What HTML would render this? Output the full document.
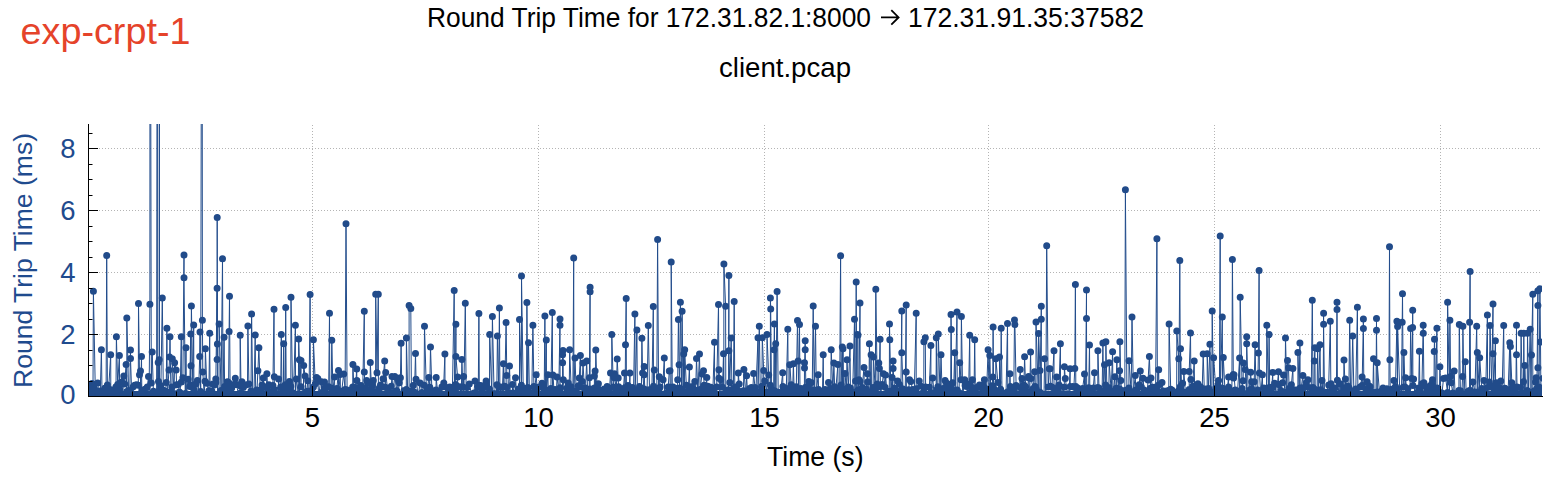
<!DOCTYPE html>
<html><head><meta charset="utf-8"><style>
html,body{margin:0;padding:0;background:#fff;}
body{width:1568px;height:478px;overflow:hidden;position:relative;}
text{font-family:"Liberation Sans",sans-serif;}
.tt{font-size:27.5px;fill:#000;}
.xl{font-size:27.5px;fill:#000;}
.yl{font-size:27.5px;fill:#1f4b8e;}
.ylab{font-size:26.5px;fill:#1f4b8e;}
.exp{font-size:37px;fill:#e5432a;}
</style></head><body>
<svg width="1568" height="478" viewBox="0 0 1568 478" style="position:absolute;left:0;top:0">
<defs><clipPath id="c"><rect x="88" y="124" width="1454" height="272.3"/></clipPath></defs>
<path d="M99 334.5H1542M99 272.5H1542M99 210.5H1542M99 148.5H1542M312.5 125V385.3M538.5 125V385.3M764.5 125V385.3M988.5 125V385.3M1214.5 125V385.3M1440.5 125V385.3" stroke="#b4b4b4" stroke-width="1" stroke-dasharray="1 2" fill="none"/>
<g clip-path="url(#c)">
<rect x="88" y="391" width="1454" height="6" fill="#214b8a"/>
<polyline points="87,394 88.8,388 90.2,388.4 91.1,395.2 92,383.5 93,386.6 93.4,291.2 95.3,390.1 97.7,383 99,394.5 100.3,391.1 101.4,349.7 102,391.7 103.7,395.6 104.8,388.2 106.1,390.7 106.7,255.4 107.4,385 108.6,389.8 110.7,354.7 110.8,389.8 113.1,391.1 115.2,390.2 116,386.8 116.4,336.7 117.7,384.5 119.4,355.4 119.6,389.1 121.2,382.1 122.7,395.5 123.8,376.1 124.7,384 126.1,364.4 126.8,391.5 126.8,317.9 128.6,390.6 129.7,395.6 130.5,350 130.5,358.4 131.7,393.2 133.2,386.8 134.7,385.3 136.8,384.8 138.3,385.3 138.5,303.5 139.5,374.8 140.5,371.1 140.6,394.1 141.5,356.4 141.8,390.3 143.5,396.2 145,389.3 147.3,387.1 148.5,376.5 149.1,395.6 149.9,304.2 150,-300 151.3,382.9 152.2,352 153.4,391.3 154.4,395.5 155.3,394.3 156.6,396.3 157.5,-300 157.7,391.8 158.2,362.4 158.5,381.5 159.2,359.7 159.5,-300 159.5,392 160.9,385.8 162.3,297.9 163.3,390.3 164.3,392 165.5,391.3 166.3,382.4 166.9,328.3 167.3,396 169,369.9 169.6,357 170,336.7 170.9,391.7 172,386.9 172.3,358.7 174,393.5 174.6,362.7 176.1,370 176.6,384.8 178.2,384.5 179.4,391.9 180.2,392.8 181.3,336.7 181.4,381.9 182.9,377.8 184,255 184,277.8 185.3,393.6 186,347.7 186.4,393.8 188.2,379.3 189.8,386.4 190.7,334 190.7,385 191,365.8 191.4,305.9 192.8,387.6 193.7,325 193.9,389.3 196,383.7 197.4,380.4 198.5,394.4 199.7,356.4 200,332 200.7,391.5 202,-300 202.4,320.3 202.8,372.1 204.2,394.7 205,381.2 205.4,348.7 206.7,383.3 208.9,390.7 209.7,333.3 210.1,393.3 211.8,391.1 212.8,384.1 214.3,385.1 215.8,379.1 215.8,382.6 217.1,288.2 217.1,359.4 217.2,217.6 217.4,344 217.5,396.1 219,396.3 219.1,324 221.1,390.4 222.5,258.7 223,392.3 224.1,337.3 224.6,386.6 225.6,393.2 226.9,387.2 227.5,381.8 228.6,382.4 229.1,331.6 229.5,296.2 230.1,390 231.7,387.9 233.3,384.6 235.3,378.3 236.5,384.6 238.6,394.8 240.1,393.3 240.2,335.3 241,386.6 241.9,381.8 243.3,387.4 245.1,385.3 247.5,384.5 247.9,326 248.9,384 251,390.9 251.6,313.9 252.7,393.9 254,393 255.2,335 255.7,396.1 257,389.9 257.9,370.7 258.9,347.7 260.3,393 261.1,390 262.1,385 263.3,378.1 264.2,394.4 266.5,387.6 266.9,373.8 267.5,387.8 268.9,384.7 270.7,392.2 272.9,385.6 274,309.2 274.3,376.8 274.4,389.4 276.7,394.7 278.4,394.9 278.6,379.1 279.4,393.8 280.7,386.9 281.3,334.6 282,394.1 283.3,393.2 283.7,343.7 284.2,386.7 285.3,384.7 285.7,307.6 286.2,388.1 287.8,388.6 289.4,381.6 290.8,386.6 291,297.2 292.6,392.8 293.5,395.6 295.4,325.3 295.5,394.7 296.4,379 298.3,393.9 298.7,339 299.4,359.7 299.6,394.7 301,360.4 301.1,386.7 303.4,393.9 303.7,365.4 305.1,376.1 305.8,392.8 306.6,391.6 307.8,380.8 308.2,391.3 309,395.4 310.1,294.5 310.4,396.1 311.7,390.5 313.4,387.1 313.4,339.7 315.3,383.7 316.6,377.6 317.8,378.5 318.6,395.9 320.7,381.4 322.7,391.9 324.3,388 324.5,382.1 326.4,387.8 328.7,386.7 329.5,313.2 329.8,395 331.2,388 331.8,340.3 332.9,390.1 334.5,377.1 334.8,396.3 336.9,388.5 338.5,370.4 338.5,395.6 340.2,374.4 340.5,395.6 341.7,391.3 343.7,373.9 345.1,389.5 346,223.8 347.1,389.9 348.1,393.8 350.1,390.7 350.9,393.6 352.7,386.9 352.9,364.4 354,391.7 355.6,387.4 356.7,369.1 356.9,380.5 357.5,388.2 359.9,393.6 361,385.5 362.7,391.1 364.3,311.2 364.3,372.1 365,388.2 366.7,380.6 367.8,382.8 368.7,391.4 370.2,394.9 370.3,362.4 371.5,388 372.3,385.4 373.3,380.5 375.6,392.6 375.7,294.2 377,372.8 378.3,294.2 378.4,393.6 379.3,388 380.5,385.1 381.7,394.4 383.1,378.8 384.7,361.1 385.2,387.2 385.7,372.4 387.5,389.2 388.4,389 390.4,393.5 391.3,386.3 392,376.5 392.9,393.3 394.8,376.4 396.7,390.8 397.7,378.1 398.1,394.7 399.3,382.7 400.4,377.7 401.1,343.3 401.9,394.4 402.9,395.4 404.1,390.6 406.3,389.4 406.4,338 407.7,392.6 409.1,393.5 409.1,305.6 410.8,308.6 411.4,391.3 413.2,385.5 414.5,392.3 415.5,353.4 416,379.2 418.2,396 420.1,382.9 421.9,392.4 424.1,385.2 424.5,326.3 426.5,395.2 427.5,389.5 428.8,377.5 429.8,387.2 430.5,347 431.9,390.8 432.7,391 435,393.3 436,390 436.2,377.5 437.9,395.6 439.6,392.4 440.7,396.2 442,386.8 443.8,382.9 444.9,354 445,386.8 446.9,396.1 448.5,392.1 449.8,387.1 450.9,392.9 452.4,391.4 454.2,290.5 454.5,388.5 455.6,384.5 455.9,324.3 455.9,356.4 457.6,377.1 457.7,394.1 459.7,386.8 461.3,394.1 461.9,359.4 462.8,386.9 463.6,376.5 463.8,394.2 465.3,303.2 466.2,395.8 467.1,387.4 469.3,383.9 471.6,394.5 473.9,392.9 475,381.1 475.7,392.6 477.1,396.3 478.3,386.8 478.9,313.6 479.3,385.6 480.7,385.5 482.2,391.6 483.6,385.7 485,387.3 486.1,381.1 486.4,386.1 487.3,395.7 489.5,388.9 489.7,334.6 491.8,393.6 492.4,316.6 494.1,393.7 496.1,393.6 496.9,384.7 497.4,336 498.7,387.4 499.4,307.9 499.9,386.8 502.2,393.8 503.4,363.7 503.7,387.1 504.8,386.3 506.1,322.6 506.8,375.5 506.9,387.5 508.2,392.7 509.5,366.1 510.3,394.3 512.3,395.7 512.5,384.5 513.1,393.1 515.5,377.8 516.7,395.3 518.3,389 519.5,390.1 519.5,319.6 521.4,385.3 521.5,276.1 523.2,388 524.5,392.6 526.5,393.8 526.9,302.5 527.7,387.5 528.5,342.7 529.4,392.4 531.8,394 532.9,325.3 533.9,386.5 534.8,388.2 536.2,374.8 537,387.2 538.3,394.4 540.6,387.1 542,383.2 543.2,384.4 544.2,390.1 544.9,315.9 545.3,394.9 546.3,340 546.5,390.3 547.9,374.8 548.3,396.2 549.6,394.5 550.9,388.4 552.3,312.6 552.6,395.3 552.9,375.1 554,390 555,389.4 556.4,393.2 557,377.1 558.8,390.7 560,318.9 560,325.3 560.1,387.7 562.5,394.3 562.6,354.7 562.6,362.7 563,350.4 563.3,379.8 564.5,396.2 566.7,388.2 568.2,383 569.2,390.8 569.7,349.7 571.1,386.7 572.9,391.3 573.7,258.1 573.9,391.1 575,358.1 576.2,391.4 578.3,385.7 579.3,377.9 580.4,355.4 580.8,387.1 582.3,381.5 583,363.1 584.4,388.5 585.5,387.9 586.7,361.1 587.7,394.1 589.1,392.5 589.4,377.8 590.1,287.2 590.1,291.8 590.1,389.1 592.3,390.7 594.4,388 594.4,376.1 595.1,371.1 595.3,390.8 595.8,350 597.1,392.1 598.4,383.8 598.9,389.8 600.4,396.1 602.2,394 604.2,388.9 605.3,395.2 606.3,395.4 607.1,386.5 607.8,395.9 609.6,389 610.5,373.1 611.7,395.8 611.8,334.6 613.3,386.9 614.3,377.7 614.5,373.8 616.3,391.4 617.2,359.1 618.2,378.1 618.6,386.8 620.9,388.5 623.2,392.8 624.5,373.1 625.2,387.4 625.5,344.7 626.2,298.5 626.4,391.9 628,385.5 629.3,393.1 629.9,373.1 630.1,394.7 632.4,387.4 633.5,392.1 634.9,313.9 635.1,392.7 636.9,330 637.3,390.5 639.5,386.4 641.4,388.4 641.9,338.3 642.6,373 644,389.1 644.2,366.4 644.2,374.8 645,392.7 647.1,390 648.3,325.6 649.5,389.7 650.8,396 651.9,392 653.3,306.6 653.5,386.3 654.3,370.1 654.6,396.1 655.4,395.2 656.8,390.5 657.6,239.5 658.6,390.1 659.3,376.8 660.1,387 661.3,395.3 663.1,379.8 664.3,358.1 664.6,396.2 666.4,392.8 668.2,387 669.3,371.1 670,370.8 670.2,387.3 671.1,392.3 671.2,262 672.3,388.6 673.1,387 674.1,390.3 675.7,388.2 676.8,393.3 677.7,379.8 678.4,319.6 679.1,364.7 679.6,387.9 680.4,302.2 681.6,388.9 682.1,311.2 683.1,395.3 683.7,354 684.3,393 684.7,349.7 686.3,385.3 688.3,390.8 689.4,367.1 689.8,388.3 691,386.7 692.1,387.5 693.3,388.9 694.8,381.5 695.7,390.2 696.5,358.4 697.9,393.9 699.5,354 700.1,389.4 702,374.1 703.5,370.8 704.1,385.2 705.6,387.9 706.8,377.5 706.9,390.1 707.8,386.2 708.7,387.1 710,396 710.9,387.3 712.8,392.6 714.5,342.3 714.6,388.2 716.7,387 718.5,304.5 718.9,378.2 718.9,369.8 719.8,395.2 720.7,379.5 722.5,387.3 723.5,353.7 723.8,395.3 723.9,264.1 725.6,306.2 725.8,393.1 727.2,393.8 728.5,389.8 728.9,275.5 728.9,350.7 729.8,382.6 731.2,338 732,396 733.4,388.6 734.2,301.5 734.8,388.2 735.9,386.7 738,396.3 738.3,373.1 739.2,384.1 740,391.4 742.1,391.4 743.4,390.8 743.9,369.4 745.7,394.2 746.6,375.8 747.6,395.2 749.5,388.5 751.4,387.4 752.7,392.4 753.6,373.4 755,387.5 755.8,393.7 758,337.7 758,392.5 759.3,326.3 760.3,391.7 761.9,386.2 762.3,337.7 763.7,370.4 763.7,393.1 764.8,381 766.8,391.9 767,334.6 768.7,375.1 768.8,395 770.4,385.2 770.4,297.9 770.7,308.9 771.5,389.3 773.6,394.8 774,349.7 774.4,323.9 774.8,391.1 775.7,343.7 775.9,394.4 777.1,291.5 778.2,392.2 780.6,392.5 782.7,372.8 782.9,386.4 784.4,390 785.4,392.4 786.3,388.4 787.8,329.3 788.2,390 789.7,390.3 789.8,364.7 791.2,384.7 792.7,388.9 793.4,363.7 794.1,389.1 796.3,386.7 797.5,320.6 798.1,361.1 798.5,389.9 799.5,324.6 800,390.1 801,388.5 802.9,393.8 804.4,390.1 804.5,362.7 804.5,368.1 805.2,340.7 805.2,349.7 805.9,387.1 806.9,388.6 808.4,386.6 808.8,381.5 809.2,394.7 811.3,382.5 812.2,390.9 813.2,305.9 814.2,390 815.5,326.3 816.3,392.2 818.2,374.8 818.6,389.5 820.1,392.1 822.4,395.7 823.2,354.7 823.7,396.2 825.1,389.4 826.5,394.1 828.5,382.4 829.6,389.5 830.8,388.6 831.2,349.7 832.9,391.6 833.9,363.1 834.6,386.7 835.9,388.2 837.9,364.4 838,393.4 839.7,388 840.6,255.7 841.1,385 842.3,347 842.5,392.1 843,348.7 843.6,389.1 844.8,393.3 845,373.4 846.4,390 847,359.7 848.3,387.1 850,346 850.4,388.1 852.7,391.9 854.5,319.3 854.8,396.2 855.6,381.1 856.2,282.1 856.8,394.9 857.3,334.6 858,335 858,390 859,379.8 860,302.9 860.1,381.6 862.2,387.4 864,367.4 864.2,391.4 866.1,388.9 867.4,373.8 867.6,382.1 868.9,394.9 869.4,343.7 870.5,391.7 871.1,354.7 871.5,391.4 873.1,387.5 873.4,357 875.3,390.7 875.8,289.2 877.2,383.9 878.6,386.9 878.8,363.1 879.4,368.4 880.1,339.3 880.4,396 882.2,384.5 883.5,373.7 885.1,387.3 885.5,375.1 887.1,392.9 889.3,391.6 889.5,324 889.8,339.7 890.9,391.2 892.1,377.5 892.4,390.8 893.1,361.1 893.1,368.4 894.5,388.1 896,393.6 897.6,381.1 899.5,384.5 899.6,393.2 900.9,390 901.8,310.9 901.8,352.7 903,389.1 905.2,395.8 906.2,304.9 906.2,372.1 906.5,394.4 908.7,389.8 909.5,379.8 910.8,381.5 912.6,389.4 914.3,391.2 916.2,313.2 916.2,388.7 917.2,395.9 919.2,381.1 920.6,385.9 922.3,393.3 923.8,392 923.9,341.7 925.3,337.7 925.6,387.1 927.3,395.1 929.4,387.2 930.9,345.4 930.9,392.5 932.7,377.9 934.2,395.3 936.1,394.8 936.3,337.7 936.9,389.5 937.9,386.7 938.3,334 940.1,396.1 941,354.7 942,389 943.1,388.6 945.1,380.4 946,389.3 946.3,382.8 947.5,385.1 949.9,393.1 950.7,388.2 951,314.6 951.3,329.6 951.6,389.1 952.7,382.8 953.6,390.6 954.7,352.7 955.1,394.9 957,311.9 957.2,389.9 959,392.5 959.7,362.7 961,379.8 961.4,316.6 962.7,395.7 964.7,379.8 965.1,385.5 966.4,386.6 968.6,393.2 969.7,335.3 970,383.9 971.9,387.4 972.4,379.8 974,396.3 974.7,339.7 975.3,390.5 977.4,387.2 979.5,385.1 981.2,387.8 983.3,384.7 984.4,379.8 984.7,390.8 986.7,388.9 988.1,349.7 989,390.3 989.8,355.4 990.9,394.2 992.1,385.8 992.8,377.1 993.1,327 993.6,388.3 995.7,390.5 995.8,358.7 997.9,382.4 999.5,394.4 999.5,357 1000.6,389.3 1001.2,328.3 1002,392.3 1003.6,395.9 1006,395.2 1007.5,323.6 1007.8,391.7 1009.6,391.1 1009.9,373.8 1010.4,386.5 1012.6,390.7 1013.8,389.2 1014.5,319.9 1014.9,324.6 1016.1,385.6 1018.5,395.9 1019.6,395.5 1020.2,369.4 1020.5,387.7 1022,378.6 1022.9,392.4 1023.9,385.1 1024.6,356.7 1025.6,386.8 1027.5,391.8 1028.5,377.8 1028.6,376.5 1029.7,393.8 1030.6,352 1031,378.6 1033.2,388.5 1034.6,371.8 1035.1,386.5 1036,388.8 1036,321.9 1038.3,393.3 1038.6,333.6 1040,370.4 1040,392.2 1041.3,306.2 1041.3,319.3 1041.4,395.1 1042.9,393.9 1044,396.2 1044.6,358.7 1045.9,395.9 1046.7,245.8 1048.2,387 1049.3,368.8 1050,368.8 1050.4,386.2 1051.9,387.1 1054,350.7 1054,391.8 1055.4,388.8 1056.7,377.1 1057.2,394.1 1058.1,388 1059.1,385 1060.4,343.7 1060.6,393.6 1062.7,394.6 1064.3,387.3 1064.4,366.8 1065.3,378.6 1067.5,394.2 1069.1,393.7 1070.1,368.8 1070.2,386.5 1072.6,386.6 1073.9,387 1074.8,368.4 1075.4,284.4 1075.8,386.6 1076.7,390 1077.7,388 1079.3,392 1081.6,390.6 1082.6,388.6 1084.5,374.1 1084.5,395.5 1085.5,391.4 1086.5,290.1 1086.5,318.6 1086.7,390.2 1088.7,387.8 1089.5,345 1089.8,389 1091.2,392.7 1093.3,387.9 1094.5,372.8 1095.5,396.1 1097.8,387.6 1097.9,350.7 1099,388 1100.4,392.6 1102.1,391.1 1102.9,343 1103.6,395.1 1104.5,364.7 1105.6,385.1 1105.9,341.7 1106.9,389.6 1108.9,387.6 1109.2,362.7 1111.2,391.2 1112.6,351.7 1112.9,396.1 1114.9,376.8 1115.2,394.5 1116.2,388.2 1116.9,359.7 1117,389.4 1118.1,390.3 1119.6,370.8 1119.9,389.3 1119.9,341.7 1120.8,380.5 1121.7,391.4 1123.3,395.1 1124.8,390.4 1125.4,189.7 1126.9,390.6 1128.9,388.1 1129,360.7 1131.2,392.1 1132,316.9 1133.4,392.4 1135.3,375.5 1135.7,390 1136.9,392 1139.2,384.7 1140.3,371.1 1141.3,387.1 1143,378.3 1144.2,390 1145.5,395.6 1147,396.1 1148.1,379.9 1149.4,356.4 1150.4,388.3 1151,378.1 1152.6,387.3 1154.4,389.6 1155.6,387.1 1156.9,238.8 1157.4,391.1 1158.7,369.8 1158.9,384.8 1160.2,395.1 1162,382.5 1163.2,391 1164.2,395 1165.5,393.4 1166.7,390.9 1168.8,390.6 1169.1,324 1170.7,389.2 1172.2,390.2 1173.8,393.9 1174.9,392.5 1176.7,392.8 1176.8,331 1178.8,358.7 1178.8,390.8 1179.8,260.4 1180.4,386.5 1180.5,348.7 1181.7,391.7 1182.6,383.2 1183.5,391.9 1183.8,371.4 1185.5,394.1 1187.8,391.8 1189.2,389.6 1189.2,371.4 1190.5,333 1190.9,379.5 1192.6,386.3 1194.2,361.1 1194.6,388.5 1196.5,386.3 1197.9,383.8 1198.7,388.7 1200.4,386.7 1202.2,388.5 1203.2,354 1204.4,392.5 1205.9,389.1 1207.2,390.8 1207.2,353.7 1208.6,388.5 1209.9,344.3 1210.7,391.9 1211.8,394.9 1212.2,310.9 1213.5,395.4 1213.6,357.7 1215.8,387.9 1218,385.6 1218.6,380.5 1219.4,387.5 1220.2,235.9 1220.3,391.4 1222.3,316.9 1222.6,388.2 1223.3,357.4 1225,391.2 1226.9,392.7 1228.6,377.1 1228.6,386.9 1230.5,395.3 1231.9,390.7 1232.4,259.5 1233.3,374.4 1233.6,378 1234,374.8 1235.2,390.1 1237.6,391 1239.6,358.1 1239.7,393.1 1240.2,297.2 1242.1,388.4 1243.1,380.8 1243.4,363.1 1245.2,369.6 1246.6,393.4 1246.7,336.7 1246.7,343.7 1248.3,394.4 1249.3,390.3 1250.7,372.3 1251.6,388.5 1251.7,381.8 1252.9,393.2 1254.2,381.8 1255.1,344.7 1256,391.4 1257.7,389.9 1258.4,353 1259.1,270.4 1259.4,373 1260.8,394.7 1262.4,374.8 1262.8,395.3 1263.9,388.1 1265.7,392.6 1266.5,390.2 1266.8,325.3 1268.5,394.6 1269.1,334.6 1269.7,387.3 1271.4,391.8 1272.8,372.4 1272.8,387.5 1274.6,383.2 1276.4,395.9 1278.5,371.8 1278.6,384.5 1280.9,390.4 1282.6,382.7 1283.5,375.1 1285,392.4 1285.5,338 1286.9,393.2 1287.5,360.4 1288.5,367.8 1289.1,388.4 1290.3,392.7 1291.4,384.7 1292.9,368.4 1293.1,391 1294.5,395.7 1295.5,389.9 1296.7,393.5 1297.9,389.7 1297.9,352.4 1299.2,389.3 1299.9,343 1300.2,388 1301.2,388 1302.9,375.5 1303.3,392.8 1305.2,386.8 1306.4,382.6 1307.5,395 1307.9,379.8 1309.5,387.4 1311.2,393.9 1312.3,300.2 1313,387.6 1314,390.9 1314.3,361.1 1314.9,347.7 1315.2,389.6 1317.1,393.2 1317.6,348.7 1318.5,394.5 1320,344.7 1320.6,389.7 1321.6,392.7 1322,380.5 1323.2,395.6 1323.6,313.2 1323.6,324.3 1324.5,395 1326.5,392.3 1328.7,385 1330.3,321.3 1330.9,393.6 1331,383.8 1331.7,389.7 1333.1,389.8 1335,387.9 1336.4,394.5 1337,302.2 1337,309.6 1337.4,380.3 1339.3,395.9 1340,383.8 1340.4,393.3 1341.8,393.2 1343.6,388 1344,360.1 1345.3,390.8 1345.4,379.1 1346.8,389.9 1347.6,386 1348.9,387.8 1349.7,320.3 1350.6,393.9 1351.6,391.2 1352.7,336 1353.9,392.4 1355.8,388.9 1357.4,307.2 1357.9,395.4 1360.2,387.1 1362.1,377.1 1362.1,385.5 1363.4,318.9 1363.4,328.6 1363.9,395.8 1365.9,391.2 1367.1,381.8 1368.1,388.7 1369,385.7 1370.2,386.7 1372.1,393.8 1372.9,392.2 1373.5,358.7 1374.1,394.9 1376,393.9 1376.5,318.6 1376.5,330.3 1377.2,391.9 1377.2,362.7 1379.5,393.3 1381.7,390.7 1383,388.1 1385,389.7 1386.8,388.7 1388.9,393.4 1389.5,246.7 1389.9,359.7 1390.3,395.7 1391.6,389.3 1393.1,393.1 1393.9,380.5 1394.6,394.6 1395.5,386.4 1396.9,321.3 1397.5,389.2 1397.6,326.6 1399.9,395.2 1401.5,394.4 1402.2,322.3 1402.5,293.8 1403.2,387.2 1403.9,352.4 1405,387 1405.6,377.8 1406.8,393.9 1407.9,388.6 1410,394.5 1410.6,328.6 1411.8,378.4 1412.6,327.6 1412.7,310.2 1412.9,385.5 1413.6,379.1 1414.9,394.5 1417,392.6 1418.7,388 1419.4,351.2 1419.9,390.7 1421.7,386.6 1422,383.8 1423.2,325.3 1423.3,333.3 1423.9,382.7 1425.5,393.3 1427.3,389.5 1428.3,386.7 1429.3,391.9 1430.4,393.2 1431.8,383.8 1432.5,379.8 1434,389.7 1434.2,351.4 1434.5,339.3 1435.6,392.9 1436.9,328.3 1437.1,388.1 1439.4,393.4 1439.9,366.8 1440.9,392.8 1442,393.1 1443.5,378.6 1445.7,378.1 1447.5,392.6 1447.6,302.2 1449.4,393.4 1449.9,320.3 1450.6,376.5 1451.1,382.8 1452.9,392.9 1454.2,371.1 1455.1,394.4 1457,395.5 1458.9,390.5 1459.3,324.6 1460.4,390.7 1461.8,394.5 1462.6,376.5 1462.9,326.3 1464,395.2 1465.3,361.7 1466.2,395.4 1467.8,391.4 1469.5,390.6 1469.6,322.3 1470.1,271.4 1470.5,390.5 1471.4,395.6 1472.9,382.1 1474.9,392.1 1476.7,326.3 1477.3,392.2 1477.3,352.4 1479.4,394.6 1479.7,357.7 1481.7,388.6 1482.7,392.7 1483.9,396.1 1484,380.5 1485.7,393.3 1487.4,314.9 1487.6,387.5 1489.4,382 1490,325.6 1491.7,385.9 1493,303.9 1493,353.7 1493.7,388.7 1495.4,340.7 1495.6,392.1 1496.4,382.8 1497,384.4 1498.9,390.3 1499.9,388.3 1500.8,380.9 1502.1,391.9 1503.7,325.6 1504.2,395.2 1505,388.3 1506.1,393.4 1508,394.9 1509.8,342.7 1510.2,389.5 1510.4,346.4 1511.8,382.8 1512.3,387.5 1513.7,391.3 1515.9,392.9 1516.5,325.3 1516.5,354.7 1517,386.9 1518.4,394.7 1520.5,387.6 1521.1,333.3 1522.3,393 1523.5,381.8 1523.8,333.3 1524.3,392.7 1524.8,365.4 1525.9,392.4 1527.2,390.5 1527.5,333.3 1528.6,391.7 1530.2,329.3 1531,394.9 1531.5,355 1532.8,294.2 1532.8,393.6 1534.4,390.7 1535.5,382.1 1536.1,377.8 1536.9,388.6 1537.9,290.8 1537.9,305.6 1537.9,367.8 1539.1,387.3 1539.9,288.8 1540.5,342 1540.9,393.5 1543,378.3" fill="none" stroke="#234d8c" stroke-width="1" stroke-linejoin="round"/>
<path d="M87 394h0M88.8 388h0M90.2 388.4h0M91.1 395.2h0M92 383.5h0M93 386.6h0M93.4 291.2h0M95.3 390.1h0M97.7 383h0M99 394.5h0M100.3 391.1h0M101.4 349.7h0M102 391.7h0M103.7 395.6h0M104.8 388.2h0M106.1 390.7h0M106.7 255.4h0M107.4 385h0M108.6 389.8h0M110.7 354.7h0M110.8 389.8h0M113.1 391.1h0M115.2 390.2h0M116 386.8h0M116.4 336.7h0M117.7 384.5h0M119.4 355.4h0M119.6 389.1h0M121.2 382.1h0M122.7 395.5h0M123.8 376.1h0M124.7 384h0M126.1 364.4h0M126.8 391.5h0M126.8 317.9h0M128.6 390.6h0M129.7 395.6h0M130.5 350h0M130.5 358.4h0M131.7 393.2h0M133.2 386.8h0M134.7 385.3h0M136.8 384.8h0M138.3 385.3h0M138.5 303.5h0M139.5 374.8h0M140.5 371.1h0M140.6 394.1h0M141.5 356.4h0M141.8 390.3h0M143.5 396.2h0M145 389.3h0M147.3 387.1h0M148.5 376.5h0M149.1 395.6h0M149.9 304.2h0M150 -300h0M151.3 382.9h0M152.2 352h0M153.4 391.3h0M154.4 395.5h0M155.3 394.3h0M156.6 396.3h0M157.5 -300h0M157.7 391.8h0M158.2 362.4h0M158.5 381.5h0M159.2 359.7h0M159.5 -300h0M159.5 392h0M160.9 385.8h0M162.3 297.9h0M163.3 390.3h0M164.3 392h0M165.5 391.3h0M166.3 382.4h0M166.9 328.3h0M167.3 396h0M169 369.9h0M169.6 357h0M170 336.7h0M170.9 391.7h0M172 386.9h0M172.3 358.7h0M174 393.5h0M174.6 362.7h0M176.1 370h0M176.6 384.8h0M178.2 384.5h0M179.4 391.9h0M180.2 392.8h0M181.3 336.7h0M181.4 381.9h0M182.9 377.8h0M184 255h0M184 277.8h0M185.3 393.6h0M186 347.7h0M186.4 393.8h0M188.2 379.3h0M189.8 386.4h0M190.7 334h0M190.7 385h0M191 365.8h0M191.4 305.9h0M192.8 387.6h0M193.7 325h0M193.9 389.3h0M196 383.7h0M197.4 380.4h0M198.5 394.4h0M199.7 356.4h0M200 332h0M200.7 391.5h0M202 -300h0M202.4 320.3h0M202.8 372.1h0M204.2 394.7h0M205 381.2h0M205.4 348.7h0M206.7 383.3h0M208.9 390.7h0M209.7 333.3h0M210.1 393.3h0M211.8 391.1h0M212.8 384.1h0M214.3 385.1h0M215.8 379.1h0M215.8 382.6h0M217.1 288.2h0M217.1 359.4h0M217.2 217.6h0M217.4 344h0M217.5 396.1h0M219 396.3h0M219.1 324h0M221.1 390.4h0M222.5 258.7h0M223 392.3h0M224.1 337.3h0M224.6 386.6h0M225.6 393.2h0M226.9 387.2h0M227.5 381.8h0M228.6 382.4h0M229.1 331.6h0M229.5 296.2h0M230.1 390h0M231.7 387.9h0M233.3 384.6h0M235.3 378.3h0M236.5 384.6h0M238.6 394.8h0M240.1 393.3h0M240.2 335.3h0M241 386.6h0M241.9 381.8h0M243.3 387.4h0M245.1 385.3h0M247.5 384.5h0M247.9 326h0M248.9 384h0M251 390.9h0M251.6 313.9h0M252.7 393.9h0M254 393h0M255.2 335h0M255.7 396.1h0M257 389.9h0M257.9 370.7h0M258.9 347.7h0M260.3 393h0M261.1 390h0M262.1 385h0M263.3 378.1h0M264.2 394.4h0M266.5 387.6h0M266.9 373.8h0M267.5 387.8h0M268.9 384.7h0M270.7 392.2h0M272.9 385.6h0M274 309.2h0M274.3 376.8h0M274.4 389.4h0M276.7 394.7h0M278.4 394.9h0M278.6 379.1h0M279.4 393.8h0M280.7 386.9h0M281.3 334.6h0M282 394.1h0M283.3 393.2h0M283.7 343.7h0M284.2 386.7h0M285.3 384.7h0M285.7 307.6h0M286.2 388.1h0M287.8 388.6h0M289.4 381.6h0M290.8 386.6h0M291 297.2h0M292.6 392.8h0M293.5 395.6h0M295.4 325.3h0M295.5 394.7h0M296.4 379h0M298.3 393.9h0M298.7 339h0M299.4 359.7h0M299.6 394.7h0M301 360.4h0M301.1 386.7h0M303.4 393.9h0M303.7 365.4h0M305.1 376.1h0M305.8 392.8h0M306.6 391.6h0M307.8 380.8h0M308.2 391.3h0M309 395.4h0M310.1 294.5h0M310.4 396.1h0M311.7 390.5h0M313.4 387.1h0M313.4 339.7h0M315.3 383.7h0M316.6 377.6h0M317.8 378.5h0M318.6 395.9h0M320.7 381.4h0M322.7 391.9h0M324.3 388h0M324.5 382.1h0M326.4 387.8h0M328.7 386.7h0M329.5 313.2h0M329.8 395h0M331.2 388h0M331.8 340.3h0M332.9 390.1h0M334.5 377.1h0M334.8 396.3h0M336.9 388.5h0M338.5 370.4h0M338.5 395.6h0M340.2 374.4h0M340.5 395.6h0M341.7 391.3h0M343.7 373.9h0M345.1 389.5h0M346 223.8h0M347.1 389.9h0M348.1 393.8h0M350.1 390.7h0M350.9 393.6h0M352.7 386.9h0M352.9 364.4h0M354 391.7h0M355.6 387.4h0M356.7 369.1h0M356.9 380.5h0M357.5 388.2h0M359.9 393.6h0M361 385.5h0M362.7 391.1h0M364.3 311.2h0M364.3 372.1h0M365 388.2h0M366.7 380.6h0M367.8 382.8h0M368.7 391.4h0M370.2 394.9h0M370.3 362.4h0M371.5 388h0M372.3 385.4h0M373.3 380.5h0M375.6 392.6h0M375.7 294.2h0M377 372.8h0M378.3 294.2h0M378.4 393.6h0M379.3 388h0M380.5 385.1h0M381.7 394.4h0M383.1 378.8h0M384.7 361.1h0M385.2 387.2h0M385.7 372.4h0M387.5 389.2h0M388.4 389h0M390.4 393.5h0M391.3 386.3h0M392 376.5h0M392.9 393.3h0M394.8 376.4h0M396.7 390.8h0M397.7 378.1h0M398.1 394.7h0M399.3 382.7h0M400.4 377.7h0M401.1 343.3h0M401.9 394.4h0M402.9 395.4h0M404.1 390.6h0M406.3 389.4h0M406.4 338h0M407.7 392.6h0M409.1 393.5h0M409.1 305.6h0M410.8 308.6h0M411.4 391.3h0M413.2 385.5h0M414.5 392.3h0M415.5 353.4h0M416 379.2h0M418.2 396h0M420.1 382.9h0M421.9 392.4h0M424.1 385.2h0M424.5 326.3h0M426.5 395.2h0M427.5 389.5h0M428.8 377.5h0M429.8 387.2h0M430.5 347h0M431.9 390.8h0M432.7 391h0M435 393.3h0M436 390h0M436.2 377.5h0M437.9 395.6h0M439.6 392.4h0M440.7 396.2h0M442 386.8h0M443.8 382.9h0M444.9 354h0M445 386.8h0M446.9 396.1h0M448.5 392.1h0M449.8 387.1h0M450.9 392.9h0M452.4 391.4h0M454.2 290.5h0M454.5 388.5h0M455.6 384.5h0M455.9 324.3h0M455.9 356.4h0M457.6 377.1h0M457.7 394.1h0M459.7 386.8h0M461.3 394.1h0M461.9 359.4h0M462.8 386.9h0M463.6 376.5h0M463.8 394.2h0M465.3 303.2h0M466.2 395.8h0M467.1 387.4h0M469.3 383.9h0M471.6 394.5h0M473.9 392.9h0M475 381.1h0M475.7 392.6h0M477.1 396.3h0M478.3 386.8h0M478.9 313.6h0M479.3 385.6h0M480.7 385.5h0M482.2 391.6h0M483.6 385.7h0M485 387.3h0M486.1 381.1h0M486.4 386.1h0M487.3 395.7h0M489.5 388.9h0M489.7 334.6h0M491.8 393.6h0M492.4 316.6h0M494.1 393.7h0M496.1 393.6h0M496.9 384.7h0M497.4 336h0M498.7 387.4h0M499.4 307.9h0M499.9 386.8h0M502.2 393.8h0M503.4 363.7h0M503.7 387.1h0M504.8 386.3h0M506.1 322.6h0M506.8 375.5h0M506.9 387.5h0M508.2 392.7h0M509.5 366.1h0M510.3 394.3h0M512.3 395.7h0M512.5 384.5h0M513.1 393.1h0M515.5 377.8h0M516.7 395.3h0M518.3 389h0M519.5 390.1h0M519.5 319.6h0M521.4 385.3h0M521.5 276.1h0M523.2 388h0M524.5 392.6h0M526.5 393.8h0M526.9 302.5h0M527.7 387.5h0M528.5 342.7h0M529.4 392.4h0M531.8 394h0M532.9 325.3h0M533.9 386.5h0M534.8 388.2h0M536.2 374.8h0M537 387.2h0M538.3 394.4h0M540.6 387.1h0M542 383.2h0M543.2 384.4h0M544.2 390.1h0M544.9 315.9h0M545.3 394.9h0M546.3 340h0M546.5 390.3h0M547.9 374.8h0M548.3 396.2h0M549.6 394.5h0M550.9 388.4h0M552.3 312.6h0M552.6 395.3h0M552.9 375.1h0M554 390h0M555 389.4h0M556.4 393.2h0M557 377.1h0M558.8 390.7h0M560 318.9h0M560 325.3h0M560.1 387.7h0M562.5 394.3h0M562.6 354.7h0M562.6 362.7h0M563 350.4h0M563.3 379.8h0M564.5 396.2h0M566.7 388.2h0M568.2 383h0M569.2 390.8h0M569.7 349.7h0M571.1 386.7h0M572.9 391.3h0M573.7 258.1h0M573.9 391.1h0M575 358.1h0M576.2 391.4h0M578.3 385.7h0M579.3 377.9h0M580.4 355.4h0M580.8 387.1h0M582.3 381.5h0M583 363.1h0M584.4 388.5h0M585.5 387.9h0M586.7 361.1h0M587.7 394.1h0M589.1 392.5h0M589.4 377.8h0M590.1 287.2h0M590.1 291.8h0M590.1 389.1h0M592.3 390.7h0M594.4 388h0M594.4 376.1h0M595.1 371.1h0M595.3 390.8h0M595.8 350h0M597.1 392.1h0M598.4 383.8h0M598.9 389.8h0M600.4 396.1h0M602.2 394h0M604.2 388.9h0M605.3 395.2h0M606.3 395.4h0M607.1 386.5h0M607.8 395.9h0M609.6 389h0M610.5 373.1h0M611.7 395.8h0M611.8 334.6h0M613.3 386.9h0M614.3 377.7h0M614.5 373.8h0M616.3 391.4h0M617.2 359.1h0M618.2 378.1h0M618.6 386.8h0M620.9 388.5h0M623.2 392.8h0M624.5 373.1h0M625.2 387.4h0M625.5 344.7h0M626.2 298.5h0M626.4 391.9h0M628 385.5h0M629.3 393.1h0M629.9 373.1h0M630.1 394.7h0M632.4 387.4h0M633.5 392.1h0M634.9 313.9h0M635.1 392.7h0M636.9 330h0M637.3 390.5h0M639.5 386.4h0M641.4 388.4h0M641.9 338.3h0M642.6 373h0M644 389.1h0M644.2 366.4h0M644.2 374.8h0M645 392.7h0M647.1 390h0M648.3 325.6h0M649.5 389.7h0M650.8 396h0M651.9 392h0M653.3 306.6h0M653.5 386.3h0M654.3 370.1h0M654.6 396.1h0M655.4 395.2h0M656.8 390.5h0M657.6 239.5h0M658.6 390.1h0M659.3 376.8h0M660.1 387h0M661.3 395.3h0M663.1 379.8h0M664.3 358.1h0M664.6 396.2h0M666.4 392.8h0M668.2 387h0M669.3 371.1h0M670 370.8h0M670.2 387.3h0M671.1 392.3h0M671.2 262h0M672.3 388.6h0M673.1 387h0M674.1 390.3h0M675.7 388.2h0M676.8 393.3h0M677.7 379.8h0M678.4 319.6h0M679.1 364.7h0M679.6 387.9h0M680.4 302.2h0M681.6 388.9h0M682.1 311.2h0M683.1 395.3h0M683.7 354h0M684.3 393h0M684.7 349.7h0M686.3 385.3h0M688.3 390.8h0M689.4 367.1h0M689.8 388.3h0M691 386.7h0M692.1 387.5h0M693.3 388.9h0M694.8 381.5h0M695.7 390.2h0M696.5 358.4h0M697.9 393.9h0M699.5 354h0M700.1 389.4h0M702 374.1h0M703.5 370.8h0M704.1 385.2h0M705.6 387.9h0M706.8 377.5h0M706.9 390.1h0M707.8 386.2h0M708.7 387.1h0M710 396h0M710.9 387.3h0M712.8 392.6h0M714.5 342.3h0M714.6 388.2h0M716.7 387h0M718.5 304.5h0M718.9 378.2h0M718.9 369.8h0M719.8 395.2h0M720.7 379.5h0M722.5 387.3h0M723.5 353.7h0M723.8 395.3h0M723.9 264.1h0M725.6 306.2h0M725.8 393.1h0M727.2 393.8h0M728.5 389.8h0M728.9 275.5h0M728.9 350.7h0M729.8 382.6h0M731.2 338h0M732 396h0M733.4 388.6h0M734.2 301.5h0M734.8 388.2h0M735.9 386.7h0M738 396.3h0M738.3 373.1h0M739.2 384.1h0M740 391.4h0M742.1 391.4h0M743.4 390.8h0M743.9 369.4h0M745.7 394.2h0M746.6 375.8h0M747.6 395.2h0M749.5 388.5h0M751.4 387.4h0M752.7 392.4h0M753.6 373.4h0M755 387.5h0M755.8 393.7h0M758 337.7h0M758 392.5h0M759.3 326.3h0M760.3 391.7h0M761.9 386.2h0M762.3 337.7h0M763.7 370.4h0M763.7 393.1h0M764.8 381h0M766.8 391.9h0M767 334.6h0M768.7 375.1h0M768.8 395h0M770.4 385.2h0M770.4 297.9h0M770.7 308.9h0M771.5 389.3h0M773.6 394.8h0M774 349.7h0M774.4 323.9h0M774.8 391.1h0M775.7 343.7h0M775.9 394.4h0M777.1 291.5h0M778.2 392.2h0M780.6 392.5h0M782.7 372.8h0M782.9 386.4h0M784.4 390h0M785.4 392.4h0M786.3 388.4h0M787.8 329.3h0M788.2 390h0M789.7 390.3h0M789.8 364.7h0M791.2 384.7h0M792.7 388.9h0M793.4 363.7h0M794.1 389.1h0M796.3 386.7h0M797.5 320.6h0M798.1 361.1h0M798.5 389.9h0M799.5 324.6h0M800 390.1h0M801 388.5h0M802.9 393.8h0M804.4 390.1h0M804.5 362.7h0M804.5 368.1h0M805.2 340.7h0M805.2 349.7h0M805.9 387.1h0M806.9 388.6h0M808.4 386.6h0M808.8 381.5h0M809.2 394.7h0M811.3 382.5h0M812.2 390.9h0M813.2 305.9h0M814.2 390h0M815.5 326.3h0M816.3 392.2h0M818.2 374.8h0M818.6 389.5h0M820.1 392.1h0M822.4 395.7h0M823.2 354.7h0M823.7 396.2h0M825.1 389.4h0M826.5 394.1h0M828.5 382.4h0M829.6 389.5h0M830.8 388.6h0M831.2 349.7h0M832.9 391.6h0M833.9 363.1h0M834.6 386.7h0M835.9 388.2h0M837.9 364.4h0M838 393.4h0M839.7 388h0M840.6 255.7h0M841.1 385h0M842.3 347h0M842.5 392.1h0M843 348.7h0M843.6 389.1h0M844.8 393.3h0M845 373.4h0M846.4 390h0M847 359.7h0M848.3 387.1h0M850 346h0M850.4 388.1h0M852.7 391.9h0M854.5 319.3h0M854.8 396.2h0M855.6 381.1h0M856.2 282.1h0M856.8 394.9h0M857.3 334.6h0M858 335h0M858 390h0M859 379.8h0M860 302.9h0M860.1 381.6h0M862.2 387.4h0M864 367.4h0M864.2 391.4h0M866.1 388.9h0M867.4 373.8h0M867.6 382.1h0M868.9 394.9h0M869.4 343.7h0M870.5 391.7h0M871.1 354.7h0M871.5 391.4h0M873.1 387.5h0M873.4 357h0M875.3 390.7h0M875.8 289.2h0M877.2 383.9h0M878.6 386.9h0M878.8 363.1h0M879.4 368.4h0M880.1 339.3h0M880.4 396h0M882.2 384.5h0M883.5 373.7h0M885.1 387.3h0M885.5 375.1h0M887.1 392.9h0M889.3 391.6h0M889.5 324h0M889.8 339.7h0M890.9 391.2h0M892.1 377.5h0M892.4 390.8h0M893.1 361.1h0M893.1 368.4h0M894.5 388.1h0M896 393.6h0M897.6 381.1h0M899.5 384.5h0M899.6 393.2h0M900.9 390h0M901.8 310.9h0M901.8 352.7h0M903 389.1h0M905.2 395.8h0M906.2 304.9h0M906.2 372.1h0M906.5 394.4h0M908.7 389.8h0M909.5 379.8h0M910.8 381.5h0M912.6 389.4h0M914.3 391.2h0M916.2 313.2h0M916.2 388.7h0M917.2 395.9h0M919.2 381.1h0M920.6 385.9h0M922.3 393.3h0M923.8 392h0M923.9 341.7h0M925.3 337.7h0M925.6 387.1h0M927.3 395.1h0M929.4 387.2h0M930.9 345.4h0M930.9 392.5h0M932.7 377.9h0M934.2 395.3h0M936.1 394.8h0M936.3 337.7h0M936.9 389.5h0M937.9 386.7h0M938.3 334h0M940.1 396.1h0M941 354.7h0M942 389h0M943.1 388.6h0M945.1 380.4h0M946 389.3h0M946.3 382.8h0M947.5 385.1h0M949.9 393.1h0M950.7 388.2h0M951 314.6h0M951.3 329.6h0M951.6 389.1h0M952.7 382.8h0M953.6 390.6h0M954.7 352.7h0M955.1 394.9h0M957 311.9h0M957.2 389.9h0M959 392.5h0M959.7 362.7h0M961 379.8h0M961.4 316.6h0M962.7 395.7h0M964.7 379.8h0M965.1 385.5h0M966.4 386.6h0M968.6 393.2h0M969.7 335.3h0M970 383.9h0M971.9 387.4h0M972.4 379.8h0M974 396.3h0M974.7 339.7h0M975.3 390.5h0M977.4 387.2h0M979.5 385.1h0M981.2 387.8h0M983.3 384.7h0M984.4 379.8h0M984.7 390.8h0M986.7 388.9h0M988.1 349.7h0M989 390.3h0M989.8 355.4h0M990.9 394.2h0M992.1 385.8h0M992.8 377.1h0M993.1 327h0M993.6 388.3h0M995.7 390.5h0M995.8 358.7h0M997.9 382.4h0M999.5 394.4h0M999.5 357h0M1000.6 389.3h0M1001.2 328.3h0M1002 392.3h0M1003.6 395.9h0M1006 395.2h0M1007.5 323.6h0M1007.8 391.7h0M1009.6 391.1h0M1009.9 373.8h0M1010.4 386.5h0M1012.6 390.7h0M1013.8 389.2h0M1014.5 319.9h0M1014.9 324.6h0M1016.1 385.6h0M1018.5 395.9h0M1019.6 395.5h0M1020.2 369.4h0M1020.5 387.7h0M1022 378.6h0M1022.9 392.4h0M1023.9 385.1h0M1024.6 356.7h0M1025.6 386.8h0M1027.5 391.8h0M1028.5 377.8h0M1028.6 376.5h0M1029.7 393.8h0M1030.6 352h0M1031 378.6h0M1033.2 388.5h0M1034.6 371.8h0M1035.1 386.5h0M1036 388.8h0M1036 321.9h0M1038.3 393.3h0M1038.6 333.6h0M1040 370.4h0M1040 392.2h0M1041.3 306.2h0M1041.3 319.3h0M1041.4 395.1h0M1042.9 393.9h0M1044 396.2h0M1044.6 358.7h0M1045.9 395.9h0M1046.7 245.8h0M1048.2 387h0M1049.3 368.8h0M1050 368.8h0M1050.4 386.2h0M1051.9 387.1h0M1054 350.7h0M1054 391.8h0M1055.4 388.8h0M1056.7 377.1h0M1057.2 394.1h0M1058.1 388h0M1059.1 385h0M1060.4 343.7h0M1060.6 393.6h0M1062.7 394.6h0M1064.3 387.3h0M1064.4 366.8h0M1065.3 378.6h0M1067.5 394.2h0M1069.1 393.7h0M1070.1 368.8h0M1070.2 386.5h0M1072.6 386.6h0M1073.9 387h0M1074.8 368.4h0M1075.4 284.4h0M1075.8 386.6h0M1076.7 390h0M1077.7 388h0M1079.3 392h0M1081.6 390.6h0M1082.6 388.6h0M1084.5 374.1h0M1084.5 395.5h0M1085.5 391.4h0M1086.5 290.1h0M1086.5 318.6h0M1086.7 390.2h0M1088.7 387.8h0M1089.5 345h0M1089.8 389h0M1091.2 392.7h0M1093.3 387.9h0M1094.5 372.8h0M1095.5 396.1h0M1097.8 387.6h0M1097.9 350.7h0M1099 388h0M1100.4 392.6h0M1102.1 391.1h0M1102.9 343h0M1103.6 395.1h0M1104.5 364.7h0M1105.6 385.1h0M1105.9 341.7h0M1106.9 389.6h0M1108.9 387.6h0M1109.2 362.7h0M1111.2 391.2h0M1112.6 351.7h0M1112.9 396.1h0M1114.9 376.8h0M1115.2 394.5h0M1116.2 388.2h0M1116.9 359.7h0M1117 389.4h0M1118.1 390.3h0M1119.6 370.8h0M1119.9 389.3h0M1119.9 341.7h0M1120.8 380.5h0M1121.7 391.4h0M1123.3 395.1h0M1124.8 390.4h0M1125.4 189.7h0M1126.9 390.6h0M1128.9 388.1h0M1129 360.7h0M1131.2 392.1h0M1132 316.9h0M1133.4 392.4h0M1135.3 375.5h0M1135.7 390h0M1136.9 392h0M1139.2 384.7h0M1140.3 371.1h0M1141.3 387.1h0M1143 378.3h0M1144.2 390h0M1145.5 395.6h0M1147 396.1h0M1148.1 379.9h0M1149.4 356.4h0M1150.4 388.3h0M1151 378.1h0M1152.6 387.3h0M1154.4 389.6h0M1155.6 387.1h0M1156.9 238.8h0M1157.4 391.1h0M1158.7 369.8h0M1158.9 384.8h0M1160.2 395.1h0M1162 382.5h0M1163.2 391h0M1164.2 395h0M1165.5 393.4h0M1166.7 390.9h0M1168.8 390.6h0M1169.1 324h0M1170.7 389.2h0M1172.2 390.2h0M1173.8 393.9h0M1174.9 392.5h0M1176.7 392.8h0M1176.8 331h0M1178.8 358.7h0M1178.8 390.8h0M1179.8 260.4h0M1180.4 386.5h0M1180.5 348.7h0M1181.7 391.7h0M1182.6 383.2h0M1183.5 391.9h0M1183.8 371.4h0M1185.5 394.1h0M1187.8 391.8h0M1189.2 389.6h0M1189.2 371.4h0M1190.5 333h0M1190.9 379.5h0M1192.6 386.3h0M1194.2 361.1h0M1194.6 388.5h0M1196.5 386.3h0M1197.9 383.8h0M1198.7 388.7h0M1200.4 386.7h0M1202.2 388.5h0M1203.2 354h0M1204.4 392.5h0M1205.9 389.1h0M1207.2 390.8h0M1207.2 353.7h0M1208.6 388.5h0M1209.9 344.3h0M1210.7 391.9h0M1211.8 394.9h0M1212.2 310.9h0M1213.5 395.4h0M1213.6 357.7h0M1215.8 387.9h0M1218 385.6h0M1218.6 380.5h0M1219.4 387.5h0M1220.2 235.9h0M1220.3 391.4h0M1222.3 316.9h0M1222.6 388.2h0M1223.3 357.4h0M1225 391.2h0M1226.9 392.7h0M1228.6 377.1h0M1228.6 386.9h0M1230.5 395.3h0M1231.9 390.7h0M1232.4 259.5h0M1233.3 374.4h0M1233.6 378h0M1234 374.8h0M1235.2 390.1h0M1237.6 391h0M1239.6 358.1h0M1239.7 393.1h0M1240.2 297.2h0M1242.1 388.4h0M1243.1 380.8h0M1243.4 363.1h0M1245.2 369.6h0M1246.6 393.4h0M1246.7 336.7h0M1246.7 343.7h0M1248.3 394.4h0M1249.3 390.3h0M1250.7 372.3h0M1251.6 388.5h0M1251.7 381.8h0M1252.9 393.2h0M1254.2 381.8h0M1255.1 344.7h0M1256 391.4h0M1257.7 389.9h0M1258.4 353h0M1259.1 270.4h0M1259.4 373h0M1260.8 394.7h0M1262.4 374.8h0M1262.8 395.3h0M1263.9 388.1h0M1265.7 392.6h0M1266.5 390.2h0M1266.8 325.3h0M1268.5 394.6h0M1269.1 334.6h0M1269.7 387.3h0M1271.4 391.8h0M1272.8 372.4h0M1272.8 387.5h0M1274.6 383.2h0M1276.4 395.9h0M1278.5 371.8h0M1278.6 384.5h0M1280.9 390.4h0M1282.6 382.7h0M1283.5 375.1h0M1285 392.4h0M1285.5 338h0M1286.9 393.2h0M1287.5 360.4h0M1288.5 367.8h0M1289.1 388.4h0M1290.3 392.7h0M1291.4 384.7h0M1292.9 368.4h0M1293.1 391h0M1294.5 395.7h0M1295.5 389.9h0M1296.7 393.5h0M1297.9 389.7h0M1297.9 352.4h0M1299.2 389.3h0M1299.9 343h0M1300.2 388h0M1301.2 388h0M1302.9 375.5h0M1303.3 392.8h0M1305.2 386.8h0M1306.4 382.6h0M1307.5 395h0M1307.9 379.8h0M1309.5 387.4h0M1311.2 393.9h0M1312.3 300.2h0M1313 387.6h0M1314 390.9h0M1314.3 361.1h0M1314.9 347.7h0M1315.2 389.6h0M1317.1 393.2h0M1317.6 348.7h0M1318.5 394.5h0M1320 344.7h0M1320.6 389.7h0M1321.6 392.7h0M1322 380.5h0M1323.2 395.6h0M1323.6 313.2h0M1323.6 324.3h0M1324.5 395h0M1326.5 392.3h0M1328.7 385h0M1330.3 321.3h0M1330.9 393.6h0M1331 383.8h0M1331.7 389.7h0M1333.1 389.8h0M1335 387.9h0M1336.4 394.5h0M1337 302.2h0M1337 309.6h0M1337.4 380.3h0M1339.3 395.9h0M1340 383.8h0M1340.4 393.3h0M1341.8 393.2h0M1343.6 388h0M1344 360.1h0M1345.3 390.8h0M1345.4 379.1h0M1346.8 389.9h0M1347.6 386h0M1348.9 387.8h0M1349.7 320.3h0M1350.6 393.9h0M1351.6 391.2h0M1352.7 336h0M1353.9 392.4h0M1355.8 388.9h0M1357.4 307.2h0M1357.9 395.4h0M1360.2 387.1h0M1362.1 377.1h0M1362.1 385.5h0M1363.4 318.9h0M1363.4 328.6h0M1363.9 395.8h0M1365.9 391.2h0M1367.1 381.8h0M1368.1 388.7h0M1369 385.7h0M1370.2 386.7h0M1372.1 393.8h0M1372.9 392.2h0M1373.5 358.7h0M1374.1 394.9h0M1376 393.9h0M1376.5 318.6h0M1376.5 330.3h0M1377.2 391.9h0M1377.2 362.7h0M1379.5 393.3h0M1381.7 390.7h0M1383 388.1h0M1385 389.7h0M1386.8 388.7h0M1388.9 393.4h0M1389.5 246.7h0M1389.9 359.7h0M1390.3 395.7h0M1391.6 389.3h0M1393.1 393.1h0M1393.9 380.5h0M1394.6 394.6h0M1395.5 386.4h0M1396.9 321.3h0M1397.5 389.2h0M1397.6 326.6h0M1399.9 395.2h0M1401.5 394.4h0M1402.2 322.3h0M1402.5 293.8h0M1403.2 387.2h0M1403.9 352.4h0M1405 387h0M1405.6 377.8h0M1406.8 393.9h0M1407.9 388.6h0M1410 394.5h0M1410.6 328.6h0M1411.8 378.4h0M1412.6 327.6h0M1412.7 310.2h0M1412.9 385.5h0M1413.6 379.1h0M1414.9 394.5h0M1417 392.6h0M1418.7 388h0M1419.4 351.2h0M1419.9 390.7h0M1421.7 386.6h0M1422 383.8h0M1423.2 325.3h0M1423.3 333.3h0M1423.9 382.7h0M1425.5 393.3h0M1427.3 389.5h0M1428.3 386.7h0M1429.3 391.9h0M1430.4 393.2h0M1431.8 383.8h0M1432.5 379.8h0M1434 389.7h0M1434.2 351.4h0M1434.5 339.3h0M1435.6 392.9h0M1436.9 328.3h0M1437.1 388.1h0M1439.4 393.4h0M1439.9 366.8h0M1440.9 392.8h0M1442 393.1h0M1443.5 378.6h0M1445.7 378.1h0M1447.5 392.6h0M1447.6 302.2h0M1449.4 393.4h0M1449.9 320.3h0M1450.6 376.5h0M1451.1 382.8h0M1452.9 392.9h0M1454.2 371.1h0M1455.1 394.4h0M1457 395.5h0M1458.9 390.5h0M1459.3 324.6h0M1460.4 390.7h0M1461.8 394.5h0M1462.6 376.5h0M1462.9 326.3h0M1464 395.2h0M1465.3 361.7h0M1466.2 395.4h0M1467.8 391.4h0M1469.5 390.6h0M1469.6 322.3h0M1470.1 271.4h0M1470.5 390.5h0M1471.4 395.6h0M1472.9 382.1h0M1474.9 392.1h0M1476.7 326.3h0M1477.3 392.2h0M1477.3 352.4h0M1479.4 394.6h0M1479.7 357.7h0M1481.7 388.6h0M1482.7 392.7h0M1483.9 396.1h0M1484 380.5h0M1485.7 393.3h0M1487.4 314.9h0M1487.6 387.5h0M1489.4 382h0M1490 325.6h0M1491.7 385.9h0M1493 303.9h0M1493 353.7h0M1493.7 388.7h0M1495.4 340.7h0M1495.6 392.1h0M1496.4 382.8h0M1497 384.4h0M1498.9 390.3h0M1499.9 388.3h0M1500.8 380.9h0M1502.1 391.9h0M1503.7 325.6h0M1504.2 395.2h0M1505 388.3h0M1506.1 393.4h0M1508 394.9h0M1509.8 342.7h0M1510.2 389.5h0M1510.4 346.4h0M1511.8 382.8h0M1512.3 387.5h0M1513.7 391.3h0M1515.9 392.9h0M1516.5 325.3h0M1516.5 354.7h0M1517 386.9h0M1518.4 394.7h0M1520.5 387.6h0M1521.1 333.3h0M1522.3 393h0M1523.5 381.8h0M1523.8 333.3h0M1524.3 392.7h0M1524.8 365.4h0M1525.9 392.4h0M1527.2 390.5h0M1527.5 333.3h0M1528.6 391.7h0M1530.2 329.3h0M1531 394.9h0M1531.5 355h0M1532.8 294.2h0M1532.8 393.6h0M1534.4 390.7h0M1535.5 382.1h0M1536.1 377.8h0M1536.9 388.6h0M1537.9 290.8h0M1537.9 305.6h0M1537.9 367.8h0M1539.1 387.3h0M1539.9 288.8h0M1540.5 342h0M1540.9 393.5h0M1543 378.3h0" stroke="#214b8a" stroke-width="7" stroke-linecap="round" fill="none"/>
</g>
<path d="M88.5 124V396.5M88 396.5H1543M88 396.5h10M88 381.5h4.5M88 365.5h4.5M88 350.5h4.5M88 334.5h10M88 319.5h4.5M88 303.5h4.5M88 288.5h4.5M88 272.5h10M88 257.5h4.5M88 241.5h4.5M88 226.5h4.5M88 210.5h10M88 195.5h4.5M88 179.5h4.5M88 164.5h4.5M88 148.5h10M88 133.5h4.5M132.5 396v-4.5M176.5 396v-4.5M222.5 396v-4.5M266.5 396v-4.5M312.5 396v-10M356.5 396v-4.5M402.5 396v-4.5M448.5 396v-4.5M492.5 396v-4.5M538.5 396v-10M582.5 396v-4.5M628.5 396v-4.5M672.5 396v-4.5M718.5 396v-4.5M764.5 396v-10M808.5 396v-4.5M854.5 396v-4.5M898.5 396v-4.5M944.5 396v-4.5M988.5 396v-10M1034.5 396v-4.5M1080.5 396v-4.5M1124.5 396v-4.5M1170.5 396v-4.5M1214.5 396v-10M1260.5 396v-4.5M1304.5 396v-4.5M1350.5 396v-4.5M1396.5 396v-4.5M1440.5 396v-10M1486.5 396v-4.5M1530.5 396v-4.5" stroke="#000" stroke-width="1" fill="none"/>
<text x="75.5" y="404" text-anchor="end" class="yl">0</text>
<text x="75.5" y="344.2" text-anchor="end" class="yl">2</text>
<text x="75.5" y="282.2" text-anchor="end" class="yl">4</text>
<text x="75.5" y="220.1" text-anchor="end" class="yl">6</text>
<text x="75.5" y="158.1" text-anchor="end" class="yl">8</text>
<text x="312.5" y="426.8" text-anchor="middle" class="xl">5</text>
<text x="538.5" y="426.8" text-anchor="middle" class="xl">10</text>
<text x="764.5" y="426.8" text-anchor="middle" class="xl">15</text>
<text x="988.5" y="426.8" text-anchor="middle" class="xl">20</text>
<text x="1214.5" y="426.8" text-anchor="middle" class="xl">25</text>
<text x="1440.5" y="426.8" text-anchor="middle" class="xl">30</text>
<text x="767" y="466" textLength="96.5" lengthAdjust="spacingAndGlyphs" class="xl">Time (s)</text>
<text transform="translate(32.2 388) rotate(-90)" textLength="255" lengthAdjust="spacingAndGlyphs" class="ylab">Round Trip Time (ms)</text>
<text x="427" y="27" textLength="444" lengthAdjust="spacingAndGlyphs" class="tt">Round Trip Time for 172.31.82.1:8000</text>
<path d="M881 17.4H899M891.3 10.2L898.6 17.4L891.3 24.7" stroke="#000" stroke-width="1.8" fill="none" stroke-linecap="butt" stroke-linejoin="miter"/>
<text x="908" y="27" textLength="236" lengthAdjust="spacingAndGlyphs" class="tt">172.31.91.35:37582</text>
<text x="719" y="76.8" textLength="132" lengthAdjust="spacingAndGlyphs" class="tt">client.pcap</text>
<text x="20.5" y="44" textLength="170" lengthAdjust="spacingAndGlyphs" class="exp">exp-crpt-1</text>
</svg>
</body></html>
